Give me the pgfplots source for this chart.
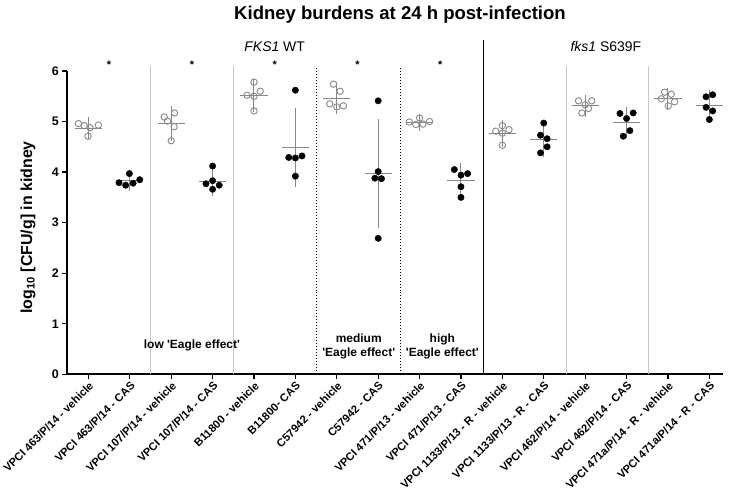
\documentclass[border=0pt]{standalone}
\usepackage{fontspec}
\setmainfont{Liberation Sans}
\usepackage{pgfplots}
\pgfplotsset{compat=1.18}
\usepackage{pgfplotstable}
\definecolor{ptgray}{HTML}{878787}
\definecolor{sepgray}{HTML}{C8C8C8}

\pgfplotstableread{
x mean sd hw
0 4.87 0.10 0.33
1 3.83 0.09 0.33
2 4.96 0.22 0.33
3 3.82 0.18 0.33
4 5.52 0.21 0.33
5 4.49 0.66 0.33
6 5.46 0.20 0.33
7 3.97 0.96 0.33
8 4.99 0.05 0.33
9 3.84 0.22 0.33
10 4.77 0.15 0.33
11 4.65 0.23 0.33
12 5.31 0.10 0.33
13 4.98 0.19 0.33
14 5.45 0.10 0.33
15 5.31 0.19 0.33
}\stats

\pgfplotstableread{
x y
-0.24 4.96
-0.10 4.92
0.04 4.88
0.24 4.93
-0.01 4.71
1.83 5.09
1.91 5.01
2.07 4.90
2.00 4.62
2.08 5.17
4.00 5.78
3.83 5.52
4.00 5.50
4.15 5.60
4.00 5.21
5.92 5.74
6.08 5.60
5.83 5.35
6.00 5.29
6.16 5.31
8.00 5.07
7.75 4.99
7.91 4.94
8.08 4.95
8.24 5.00
10.00 4.92
9.84 4.81
10.00 4.77
10.16 4.84
10.00 4.53
11.84 5.41
12.16 5.41
12.00 5.33
12.08 5.26
11.92 5.17
13.92 5.58
14.08 5.54
13.84 5.45
14.16 5.39
14.01 5.31
}\vehicle

\pgfplotstableread{
x y
0.74 3.79
0.90 3.74
1.08 3.78
1.24 3.85
0.99 3.97
3.00 4.12
2.84 3.77
3.00 3.83
3.16 3.74
3.00 3.66
5.00 5.62
4.84 4.29
5.00 4.28
5.16 4.32
5.00 3.92
7.00 5.41
7.00 4.01
6.92 3.88
7.08 3.87
7.00 2.69
8.84 4.05
9.00 3.94
9.16 3.97
9.00 3.71
9.00 3.50
11.00 4.97
10.92 4.73
11.08 4.66
11.08 4.50
10.92 4.38
12.84 5.16
13.16 5.17
13.00 5.06
13.08 4.82
12.92 4.71
14.92 5.49
15.08 5.53
14.92 5.28
15.08 5.21
15.00 5.04
}\cas

\begin{document}
\begin{tikzpicture}[x=1bp,y=1bp]
\begin{axis}[
  at={(0,0)}, anchor=south west, scale only axis,
  width=655.7bp, height=303.3bp,
  xmin=-0.51, xmax=15.33, ymin=0, ymax=6,
  axis x line*=bottom, axis y line*=left,
  axis line style={line width=1.6bp, black},
  xtick={0,...,15}, ytick={0,...,6},
  tick align=outside, major tick length=5bp,
  tick style={line width=1.2bp, black},
  xticklabels={VPCI 463/P/14 - vehicle, VPCI 463/P/14 - CAS, VPCI 107/P/14 - vehicle, VPCI 107/P/14 - CAS, B11800 - vehicle, B11800- CAS, C57942 - vehicle, C57942 - CAS, VPCI 471/P/13 - vehicle, VPCI 471/P/13 - CAS, VPCI 1133/P/13 - R - vehicle, VPCI 1133/P/13 - R - CAS, VPCI 462/P/14 - vehicle, VPCI 462/P/14 - CAS, VPCI 471a/P/14 - R - vehicle, VPCI 471a/P/14 - R - CAS},
  xticklabel style={rotate=45, anchor=north east, font=\fontsize{11.2}{12}\selectfont\bfseries, inner sep=1bp},
  yticklabel style={font=\fontsize{12.5}{14}\selectfont\bfseries},
  /pgf/number format/assume math mode=true,
  clip=false,
]
% separators
\draw[sepgray, line width=0.8bp] (axis cs:1.5,0) -- (axis cs:1.5,6.09);
\draw[sepgray, line width=0.8bp] (axis cs:3.5,0) -- (axis cs:3.5,6.09);
\draw[sepgray, line width=0.8bp] (axis cs:11.55,0) -- (axis cs:11.55,6.09);
\draw[sepgray, line width=0.8bp] (axis cs:13.52,0) -- (axis cs:13.52,6.09);
\draw[black, line width=1bp, dotted] (axis cs:5.52,0) -- (axis cs:5.52,6.09);
\draw[black, line width=1bp, dotted] (axis cs:7.53,0) -- (axis cs:7.53,6.09);
\draw[black, line width=1.5bp] (axis cs:9.55,0) -- (axis cs:9.55,6.62);

% mean lines
\addplot[draw=none, forget plot, error bars/.cd, x dir=both, x explicit, error mark=none,
  error bar style={draw=ptgray, line width=1bp, solid}]
  table[x=x, y=mean, x error=hw]{\stats};
% SD bars
\addplot[draw=none, forget plot, error bars/.cd, y dir=both, y explicit,
  error mark options={draw=ptgray, line width=1bp, mark size=6bp},
  error bar style={draw=ptgray, line width=1bp, solid}]
  table[x=x, y=mean, y error=sd]{\stats};

% points
\addplot[only marks, mark=o, mark size=3.2bp, mark options={draw=ptgray, line width=0.9bp, fill=white}] table[x=x,y=y]{\vehicle};
\addplot[only marks, mark=*, mark size=3.2bp, mark options={draw=black, fill=black}] table[x=x,y=y]{\cas};

% stars
\node[font=\fontsize{11}{12}\selectfont\bfseries] at (axis cs:0.5,6.12) {*};
\node[font=\fontsize{11}{12}\selectfont\bfseries] at (axis cs:2.5,6.12) {*};
\node[font=\fontsize{11}{12}\selectfont\bfseries] at (axis cs:4.5,6.12) {*};
\node[font=\fontsize{11}{12}\selectfont\bfseries] at (axis cs:6.5,6.12) {*};
\node[font=\fontsize{11}{12}\selectfont\bfseries] at (axis cs:8.5,6.12) {*};
\node[font=\fontsize{14}{16}\selectfont] at (axis cs:4.5,6.48) {\textit{FKS1} WT};
\node[font=\fontsize{14}{16}\selectfont] at (axis cs:12.5,6.48) {\textit{fks1} S639F};

\node[font=\fontsize{12}{14}\selectfont\bfseries] at (axis cs:2.5,0.58) {low \textquotesingle Eagle effect\textquotesingle};
\node[font=\fontsize{12}{14.6}\selectfont\bfseries, align=center] at (axis cs:6.53,0.55) {medium\\\textquotesingle Eagle effect\textquotesingle};
\node[font=\fontsize{12}{14.6}\selectfont\bfseries, align=center] at (axis cs:8.55,0.55) {high\\\textquotesingle Eagle effect\textquotesingle};
\end{axis}
\node[font=\fontsize{18.6}{20}\selectfont\bfseries] at (332.7,359.3) {Kidney burdens at 24 h post-infection};
\node[font=\fontsize{16}{18}\selectfont\bfseries, rotate=90] at (-39.3,147) {log\textsubscript{10} [CFU/g] in kidney};
\pgfresetboundingbox
\path (-67.3,-115.7) rectangle (665.7,374.3);
\end{tikzpicture}
\end{document}
